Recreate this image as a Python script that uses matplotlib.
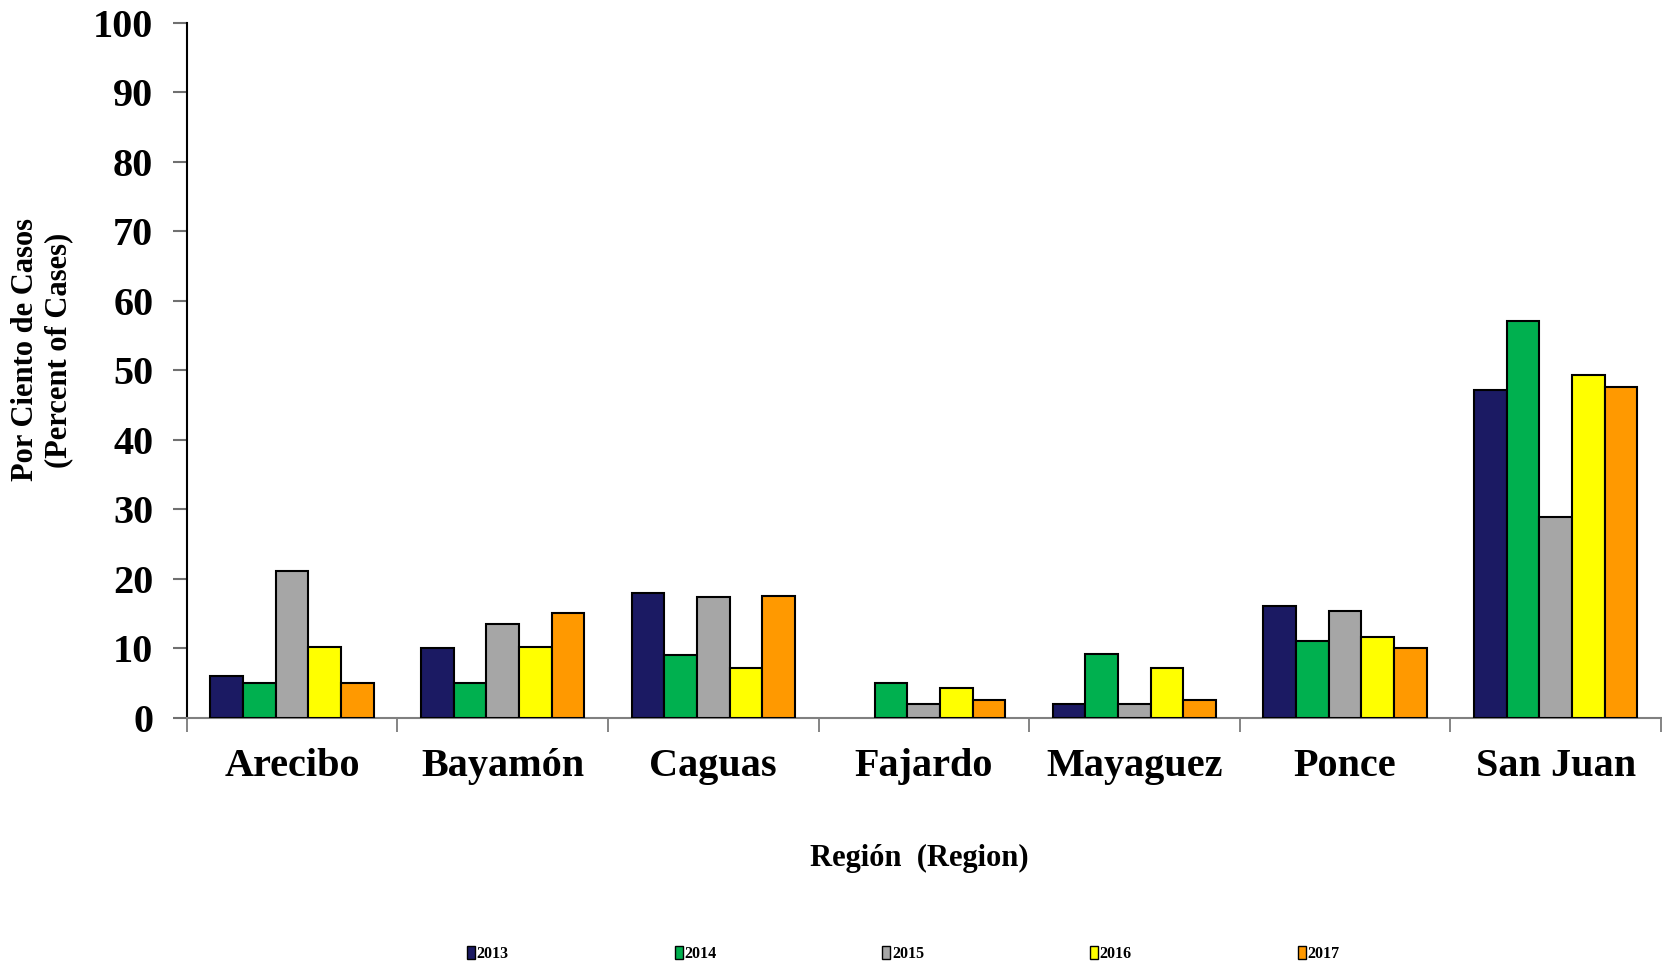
import numpy as np
import matplotlib
matplotlib.use("Agg")
import matplotlib.pyplot as plt
from matplotlib.patches import Patch

regions = ["Arecibo", "Bayamón", "Caguas", "Fajardo", "Mayaguez", "Ponce", "San Juan"]
years = ["2013", "2014", "2015", "2016", "2017"]
v2013 = [6.0, 10.0, 18.0, 0.0, 2.0, 16.0, 47.1]
v2014 = [5.0, 5.0, 9.0, 5.0, 9.1, 11.0, 57.1]
v2015 = [21.1, 13.5, 17.3, 1.9, 1.9, 15.4, 28.9]
v2016 = [10.1, 10.1, 7.2, 4.3, 7.2, 11.6, 49.3]
v2017 = [5.0, 15.0, 17.5, 2.5, 2.5, 10.0, 47.6]
series = [v2013, v2014, v2015, v2016, v2017]
colors = ["#1B1A63", "#00B04F", "#A6A6A6", "#FFFF00", "#FF9900"]

plt.rcParams['font.family'] = ['Liberation Serif', 'DejaVu Serif']
plt.rcParams['font.weight'] = 'bold'

fig = plt.figure(figsize=(16.62, 9.64), dpi=100)
ax = fig.add_axes([0.1123, 0.2555, 0.8871, 0.7210])

x = np.arange(len(regions))
w = 0.155
for i, (vals, c) in enumerate(zip(series, colors)):
    bars = ax.bar(x + (i - 2) * w, vals, w, color=c, edgecolor='black', linewidth=1.5, zorder=3)
    # no outline for empty bars (Fajardo 2013)
    for b, v in zip(bars, vals):
        if v == 0:
            b.set_edgecolor('none')

ax.set_xlim(-0.5, len(regions) - 0.5)
ax.set_ylim(0, 100)
ax.set_yticks(range(0, 101, 10))
ax.tick_params(axis='y', labelsize=29, length=10, width=1.5, color='#707070', pad=14)
ax.set_xticks(x)
ax.set_xticklabels(regions)
ax.tick_params(axis='x', which='major', length=0, labelsize=29, pad=22)
ax.set_xticks(np.arange(-0.5, len(regions), 1), minor=True)
ax.tick_params(axis='x', which='minor', length=10, width=1.2, color='#707070', direction='out')
for lbl in ax.get_xticklabels() + ax.get_yticklabels():
    lbl.set_fontweight('bold')

ax.spines['top'].set_visible(False)
ax.spines['right'].set_visible(False)
ax.spines['left'].set_color('black')
ax.spines['left'].set_linewidth(1.5)
ax.spines['bottom'].set_color('#808080')
ax.spines['bottom'].set_linewidth(1.5)

fig.text(0.0255, 0.637, "Por Ciento de Casos\n(Percent of Cases)", rotation=90,
         ha='center', va='center', multialignment='center', fontsize=22, fontweight='bold')
fig.text(0.553, 0.109, "Región  (Region)", ha='center', va='center', fontsize=22, fontweight='bold')

handles = [Patch(facecolor=c, edgecolor='black', linewidth=1) for c in colors]
fig.legend(handles, years, loc='center', bbox_to_anchor=(0.5435, 0.0104), ncol=5, frameon=False,
           handlelength=0.5, handleheight=0.8, handletextpad=0.1,
           columnspacing=10.4, borderpad=0, prop={'weight': 'bold', 'size': 11.5})

fig.savefig("out.png", dpi=100)
